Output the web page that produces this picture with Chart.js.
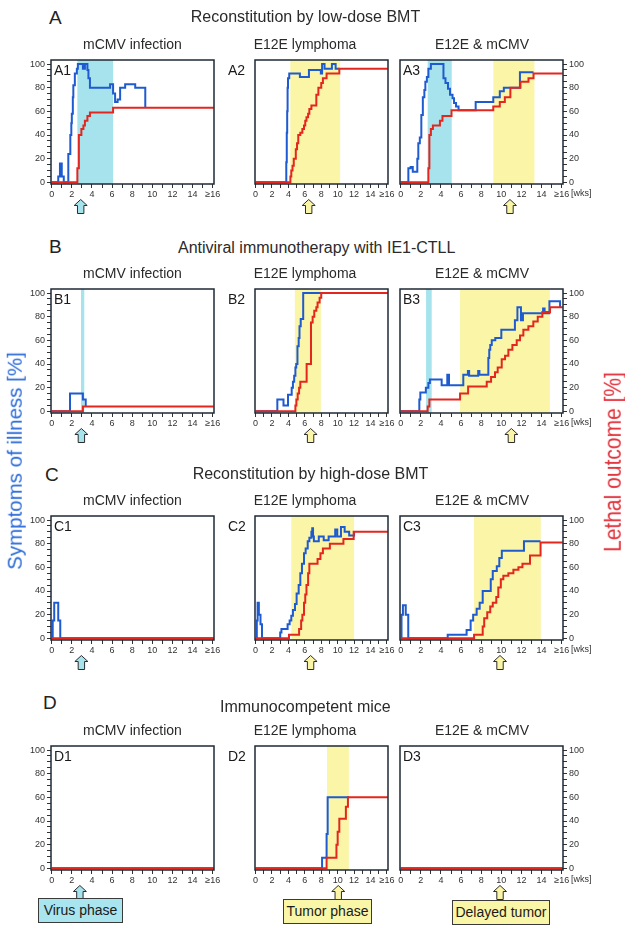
<!DOCTYPE html>
<html><head><meta charset="utf-8">
<script src="https://cdn.jsdelivr.net/npm/chart.js@4/dist/chart.umd.min.js"></script>
<style>
html,body{margin:0;padding:0;background:#fff}
#fig{position:relative;width:625px;height:935px;overflow:hidden;font-family:"Liberation Sans",Arial,sans-serif;color:#2a2a2a}
#fig canvas{position:absolute}
.t{position:absolute;white-space:nowrap;line-height:1;z-index:3}
.c{transform:translateX(-50%)}
.box{position:absolute;box-sizing:border-box;border:1px solid #3a3a3a;font-size:14px;line-height:23px;text-align:center;z-index:3;color:#1a1a1a}
</style></head><body><div id="fig"></div>
<script>
// ---------- DATA (weeks, percent) ----------
const weekTicks = [0,1,2,3,4,5,6,7,8,9,10,11,12,13,14,15,16];
const weekLabels = ['0','','2','','4','','6','','8','','10','','12','','14','','\u226516'];
const pctTicks = [0,5,10,15,20,25,30,35,40,45,50,55,60,65,70,75,80,85,90,95,100];
const pctLabels = ['0','','','','20','','','','40','','','','60','','','','80','','','','100'];

const rowLetters = ['A','B','C','D'];
const rowTitles = ['Reconstitution by low-dose BMT','Antiviral immunotherapy with IE1-CTLL','Reconstitution by high-dose BMT','Immunocompetent mice'];
const colTitles = ['mCMV infection','E12E lymphoma','E12E & mCMV'];
const phaseLabels = ['Virus phase','Tumor phase','Delayed tumor'];

// symptoms of illness (blue) and lethal outcome (red): [week, %], step changes
const A1_symptoms = [[0,0],[0.65,5],[0.82,16],[1.0,5],[1.2,0],[1.65,24],[1.85,40],[1.95,50],[2.0,58],[2.1,72],[2.15,82],[2.3,92],[2.5,96],[2.6,100],[3.1,96],[3.3,100],[3.55,95],[3.65,88],[3.8,80],[5.8,83],[6.1,75],[6.3,68],[6.55,70],[6.8,80],[7.3,83],[8.3,80],[9.3,63]];
const A1_lethal = [[0,0],[2.55,12],[2.7,40],[2.95,45],[3.15,48],[3.3,52],[3.55,56],[3.8,59],[6.1,63],[16.1,63]];
const A2_symptoms = [[0,0],[3.74,17],[3.8,42],[3.85,60],[3.9,80],[3.95,88],[4.1,92],[5.4,89],[6.5,95],[7.95,92],[8.1,100],[8.4,96],[9.3,100],[9.75,96],[10.2,96]];
const A2_lethal = [[0,0],[4.24,5],[4.35,10],[4.5,14],[4.65,20],[4.9,28],[5.05,33],[5.2,40],[5.45,42],[5.7,45],[5.9,48],[6.05,52],[6.2,55],[6.4,58],[6.55,62],[6.8,65],[7.4,74],[7.65,80],[8.0,84],[8.2,88],[8.65,92],[10.2,96],[16.1,96]];
const A3_symptoms = [[0,0],[0.76,12],[0.99,13],[1.2,9],[1.65,20],[1.75,33],[1.9,38],[2.05,57],[2.2,72],[2.35,78],[2.45,85],[2.6,89],[2.75,96],[3.0,100],[4.25,88],[4.45,84],[4.7,79],[4.9,74],[5.15,71],[5.3,67],[5.5,64],[5.75,61],[7.45,68],[9.2,72],[9.85,77],[10.25,80],[11.85,93],[13.2,93]];
const A3_lethal = [[0,0],[2.75,12],[2.85,40],[3.0,45],[3.2,48],[3.9,52],[4.15,56],[5.05,61],[9.2,64],[9.85,68],[10.35,72],[10.9,80],[11.9,85],[12.7,88],[13.2,92],[16.1,92]];

const B1_symptoms = [[0,0],[1.82,15],[3.1,10],[3.38,4]];
const B1_lethal = [[0,0],[3.1,4],[16.1,4]];
const B2_symptoms = [[0,0],[2.65,10],[3.4,5],[3.95,14],[4.4,20],[4.55,25],[4.7,30],[4.85,37],[4.95,40],[5.1,55],[5.25,62],[5.35,72],[5.5,78],[5.8,100],[8.0,100]];
const B2_lethal = [[0,0],[4.85,5],[4.97,10],[5.13,15],[5.3,20],[5.45,25],[6.22,40],[6.75,75],[6.95,80],[7.15,85],[7.4,88],[7.55,92],[7.8,96],[8.0,100],[16.1,100]];
const B3_symptoms = [[0,0],[1.85,10],[1.95,16],[2.5,20],[2.75,24],[2.9,27],[4.07,22],[4.63,31],[4.8,22],[6.22,31],[6.68,34],[6.8,30],[7.7,34],[7.82,31],[8.71,45],[8.8,52],[8.9,56],[9.05,60],[9.4,62],[10.0,69],[11.35,77],[11.6,88],[11.95,77],[12.15,83],[14.15,87],[14.3,83],[14.78,93],[15.84,88]];
const B3_lethal = [[0,0],[2.68,4],[2.85,10],[5.9,15],[6.7,21],[8.55,25],[8.98,29],[9.37,33],[9.64,37],[10.04,44],[10.37,47],[10.7,52],[11.1,56],[11.53,60],[11.86,64],[12.19,69],[12.69,72],[13.18,76],[13.62,80],[14.08,84],[14.84,88],[16.1,88]];

const C1_symptoms = [[0,0],[0.1,15],[0.25,30],[0.65,15],[0.85,0],[16.1,0]];
const C1_lethal = [[0,0],[16.1,0]];
const C2_symptoms = [[0,0],[0.15,15],[0.25,30],[0.4,20],[0.6,12],[0.78,0],[3.0,5],[3.15,8],[3.9,12],[4.15,15],[4.35,19],[4.55,24],[4.8,29],[5.0,38],[5.25,45],[5.45,55],[5.65,63],[5.9,72],[6.1,76],[6.35,82],[6.55,85],[6.8,90],[6.9,93],[7.0,86],[7.1,82],[7.7,86],[8.3,83],[8.9,86],[9.7,92],[9.95,86],[10.4,94],[10.85,90],[11.4,87],[12.0,90]];
const C2_lethal = [[0,0],[4.07,3],[5.3,8],[5.55,15],[5.7,20],[5.9,30],[6.05,37],[6.2,45],[6.4,55],[6.55,63],[7.55,67],[7.9,72],[8.2,76],[9.05,80],[10.7,84],[11.95,90],[16.1,90]];
const C3_symptoms = [[0,0],[0.08,20],[0.22,28],[0.5,20],[0.75,0],[4.67,3],[6.55,7],[6.95,15],[7.2,20],[7.55,25],[7.85,30],[8.15,40],[8.95,50],[9.15,57],[9.55,61],[9.8,68],[10.05,74],[12.25,82],[13.9,82]];
const C3_lethal = [[0,0],[7.29,3],[8.15,10],[8.3,17],[8.6,22],[8.9,27],[9.15,30],[9.5,35],[9.7,43],[9.95,50],[10.2,53],[10.7,55],[11.2,58],[11.7,60],[12.1,63],[12.85,70],[13.9,81],[16.1,81]];

const D1_symptoms = [[0,0],[16.1,0]];
const D1_lethal = [[0,0],[16.1,0]];
const D2_symptoms = [[0,0],[8.1,9],[8.65,29],[8.78,60],[11.4,60]];
const D2_lethal = [[0,0],[8.65,9],[9.85,20],[10.0,31],[10.2,42],[11.0,52],[11.25,60],[16.1,60]];
const D3_symptoms = [[0,0],[16.1,0]];
const D3_lethal = [[0,0],[16.1,0]];

// shaded phases [kind, start week, end week]
const A1_bands = [['virus',2.55,6.1]];
const A2_bands = [['tumor',4.23,10.3]];
const A3_bands = [['virus',2.68,5.07],['tumor',9.21,13.29]];
const B1_bands = [['virus',2.91,3.24]];
const B2_bands = [['tumor',4.78,7.95]];
const B3_bands = [['virus',2.52,3.08],['tumor',5.9,14.82]];
const C1_bands = [];
const C2_bands = [['tumor',4.35,12.0]];
const C3_bands = [['tumor',7.29,13.92]];
const D1_bands = [];
const D2_bands = [['tumor',8.71,11.36]];
const D3_bands = [];

// arrow marks (weeks) under each panel
const A_arrows = [2.88,6.47,10.86];
const B_arrows = [2.95,6.7,11.0];
const C_arrows = [2.95,6.7,9.87];
const D_arrows = [2.8,10.07,9.87];
const arrowKinds = ['virus','tumor','tumor'];

// ---------- LAYOUT / STYLE ----------
const FONT = '"Liberation Sans", Arial, sans-serif';
const BLUE = '#1f5bd0', RED = '#e3271f', CYAN = '#a6e3ec', YELLOW = '#faf5a7', FRAME = '#1e2836';
const boxLeft = [51,225,400], boxTop = [60,289,516,746], boxW = 163, boxH = 124;
const PADX = 40, PADT = 8, AXH = 32;

const DATA = {
  A1:[A1_symptoms,A1_lethal,A1_bands], A2:[A2_symptoms,A2_lethal,A2_bands], A3:[A3_symptoms,A3_lethal,A3_bands],
  B1:[B1_symptoms,B1_lethal,B1_bands], B2:[B2_symptoms,B2_lethal,B2_bands], B3:[B3_symptoms,B3_lethal,B3_bands],
  C1:[C1_symptoms,C1_lethal,C1_bands], C2:[C2_symptoms,C2_lethal,C2_bands], C3:[C3_symptoms,C3_lethal,C3_bands],
  D1:[D1_symptoms,D1_lethal,D1_bands], D2:[D2_symptoms,D2_lethal,D2_bands], D3:[D3_symptoms,D3_lethal,D3_bands]
};
const ARROWS = {A:A_arrows,B:B_arrows,C:C_arrows,D:D_arrows};

const fig = document.getElementById('fig');
function addText(txt, x, y, size, extra){
  const d = document.createElement('div');
  d.className = 't' + (extra && extra.center ? ' c' : '');
  d.textContent = txt;
  d.style.left = x + 'px'; d.style.top = y + 'px'; d.style.fontSize = size + 'px';
  if (extra && extra.color) d.style.color = extra.color;
  fig.appendChild(d);
  return d;
}

function drawArrow(ctx, cx, top, fill){
  const hw = 6.5, sw = 3.2, hh = 6, h = 14;
  ctx.beginPath();
  ctx.moveTo(cx, top);
  ctx.lineTo(cx + hw, top + hh);
  ctx.lineTo(cx + sw, top + hh);
  ctx.lineTo(cx + sw, top + h);
  ctx.lineTo(cx - sw, top + h);
  ctx.lineTo(cx - sw, top + hh);
  ctx.lineTo(cx - hw, top + hh);
  ctx.closePath();
  ctx.fillStyle = fill; ctx.fill();
  ctx.strokeStyle = '#2c2c2c'; ctx.lineWidth = 1; ctx.stroke();
}

function makeDeco(bands, arrowWeek, arrowKind){
  return {
    id: 'deco',
    beforeDatasetsDraw(chart){
      const {ctx, chartArea:a, scales:{x}} = chart;
      ctx.save();
      for (const [kind, s, e] of bands){
        const x0 = x.getPixelForValue(s), x1 = x.getPixelForValue(e);
        ctx.fillStyle = kind === 'virus' ? CYAN : YELLOW;
        ctx.fillRect(x0, a.top, x1 - x0, a.bottom - a.top);
      }
      ctx.restore();
    },
    afterDatasetsDraw(chart){
      const {ctx, chartArea:a} = chart;
      ctx.save();
      ctx.strokeStyle = FRAME; ctx.lineWidth = 1.5;
      ctx.strokeRect(a.left, a.top, a.right - a.left, a.bottom - a.top);
      ctx.restore();
    },
    afterDraw(chart){
      const {ctx, chartArea:a, scales:{x}} = chart;
      ctx.save();
      drawArrow(ctx, x.getPixelForValue(arrowWeek), a.bottom + 15.5, arrowKind === 'virus' ? CYAN : YELLOW);
      ctx.restore();
    }
  };
}

rowLetters.forEach((r, ri) => {
  [0,1,2].forEach(ci => {
    const id = r + (ci + 1);
    const [sym, leth, bands] = DATA[id];
    const cv = document.createElement('canvas');
    const W = boxW + 2 * PADX, H = PADT + boxH + AXH;
    cv.width = W; cv.height = H;
    cv.style.width = W + 'px'; cv.style.height = H + 'px';
    cv.style.left = (boxLeft[ci] - PADX) + 'px';
    cv.style.top = (boxTop[ri] - PADT) + 'px';
    fig.appendChild(cv);
    const tickFont = {family: FONT, size: 9};
    new Chart(cv, {
      type: 'line',
      data: {
        datasets: [
          {label: 'Lethal outcome', data: leth.map(p => ({x: p[0], y: p[1]})), borderColor: RED},
          {label: 'Symptoms of illness', data: sym.map(p => ({x: p[0], y: p[1]})), borderColor: BLUE}
        ]
      },
      options: {
        responsive: false, animation: false, devicePixelRatio: 1,
        layout: {padding: {left: ci === 0 ? PADX - 30 : PADX, right: ci === 2 ? PADX - 30 : PADX, top: PADT, bottom: 0}},
        plugins: {legend: {display: false}, tooltip: {enabled: false}},
        elements: {point: {radius: 0}, line: {tension: 0, borderWidth: 2, stepped: 'before', fill: false}},
        scales: {
          x: {
            type: 'linear', min: -0.07, max: 16.13,
            afterBuildTicks: s => { s.ticks = weekTicks.map(v => ({value: v})); },
            afterFit: s => { s.height = AXH; },
            ticks: {autoSkip: false, maxRotation: 0, padding: 1, font: tickFont, color: '#333',
              callback: v => weekLabels[weekTicks.indexOf(v)]},
            grid: {drawOnChartArea: false, tickLength: 4, color: '#333', lineWidth: 1},
            border: {display: false}
          },
          y: {
            type: 'linear', position: ci === 2 ? 'right' : 'left', display: ci !== 1,
            min: -1.4, max: 103.4,
            afterBuildTicks: s => { s.ticks = pctTicks.map(v => ({value: v})); },
            afterFit: s => { s.width = 30; },
            ticks: {autoSkip: false, padding: 2, font: tickFont, color: '#333',
              callback: v => pctLabels[pctTicks.indexOf(v)]},
            grid: {drawOnChartArea: false, tickLength: 4, color: '#333', lineWidth: 1},
            border: {display: false}
          }
        }
      },
      plugins: [makeDeco(bands, ARROWS[r][ci], arrowKinds[ci])]
    });
    addText(id, boxLeft[ci] + 3, boxTop[ri] + 3, 14, {color: '#1a1a1a'});
  });
});

// row letters, row titles, column subtitles
const letterPos = [[49,8],[49,237],[45,465],[43,693]];
const titlePos = [[305.5,9],[316.7,240],[310.5,466],[305.3,699]];
const subCenters = [132.5,305,482];
rowLetters.forEach((r, ri) => {
  addText(r, letterPos[ri][0], letterPos[ri][1], 19, {color: '#222'});
  addText(rowTitles[ri], titlePos[ri][0], titlePos[ri][1], 16, {center: true, color: '#2a2a2a'});
  colTitles.forEach((t, ci) => addText(t, subCenters[ci], boxTop[ri] - 23, 14, {center: true, color: '#2a2a2a'}));
  addText('[wks]', 571, boxTop[ri] + boxH + 5, 9, {color: '#333'});
});

// axis titles
const yl = addText('Symptoms of illness [%]', 0, 0, 20.5, {color: '#2a6ad8'});
yl.style.left = '15px'; yl.style.top = '461px';
yl.style.transform = 'translate(-50%,-50%) rotate(-90deg)';
const yr = addText('Lethal outcome [%]', 0, 0, 21, {color: '#e2303a'});
yr.style.left = '612px'; yr.style.top = '462px';
yr.style.transform = 'translate(-50%,-50%) rotate(-90deg) scale(1,1.15)';

// phase boxes under the last row
const phaseBoxes = [[38,898,85,'#a9e5ee'],[283,899,89,'#faf6a8'],[452,900,98,'#faf6a8']];
phaseLabels.forEach((t, i) => {
  const d = document.createElement('div');
  d.className = 'box';
  d.textContent = t;
  const [x, y, w, bg] = phaseBoxes[i];
  d.style.left = x + 'px'; d.style.top = y + 'px'; d.style.width = w + 'px'; d.style.height = '25px';
  d.style.background = bg;
  fig.appendChild(d);
});
</script></body></html>
